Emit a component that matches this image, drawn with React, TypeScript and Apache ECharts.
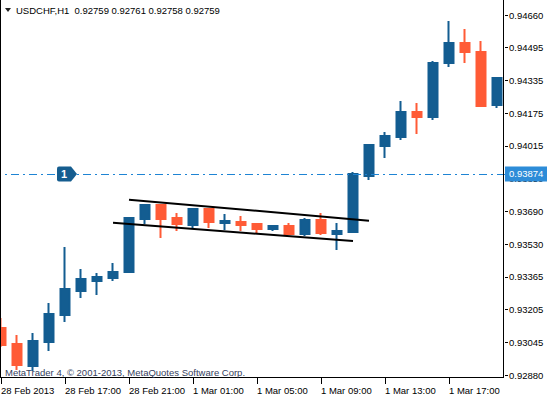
import React, { useEffect, useRef } from "react";
import * as echarts from "echarts";

const categories = [
  "2013.02.28 13:00", "2013.02.28 14:00", "2013.02.28 15:00", "2013.02.28 16:00",
  "2013.02.28 17:00", "2013.02.28 18:00", "2013.02.28 19:00", "2013.02.28 20:00",
  "2013.02.28 21:00", "2013.02.28 22:00", "2013.02.28 23:00", "2013.03.01 00:00",
  "2013.03.01 01:00", "2013.03.01 02:00", "2013.03.01 03:00", "2013.03.01 04:00",
  "2013.03.01 05:00", "2013.03.01 06:00", "2013.03.01 07:00", "2013.03.01 08:00",
  "2013.03.01 09:00", "2013.03.01 10:00", "2013.03.01 11:00", "2013.03.01 12:00",
  "2013.03.01 13:00", "2013.03.01 14:00", "2013.03.01 15:00", "2013.03.01 16:00",
  "2013.03.01 17:00", "2013.03.01 18:00", "2013.03.01 19:00", "2013.03.01 20:00",
];

const opens = [
  0.93112, 0.93033, 0.92924, 0.93043, 0.93177, 0.93295, 0.93345, 0.9336,
  0.93389, 0.93651, 0.9372, 0.93656, 0.93622, 0.93701, 0.93632, 0.93636,
  0.93627, 0.93602, 0.93617, 0.93577, 0.93646, 0.93577, 0.93587, 0.93864,
  0.94012, 0.94057, 0.9418, 0.94156, 0.94423, 0.94521, 0.94477, 0.94215,
];
const closes = [
  0.93028, 0.92929, 0.93048, 0.93182, 0.93305, 0.93355, 0.93365, 0.93389,
  0.93656, 0.9372, 0.93651, 0.93627, 0.93701, 0.93636, 0.93641, 0.93622,
  0.93602, 0.93617, 0.93577, 0.93646, 0.93582, 0.93592, 0.93874, 0.94017,
  0.94062, 0.9418, 0.94156, 0.94423, 0.94521, 0.94477, 0.9421, 0.94348,
];
const highs = [
  0.93162, 0.93078, 0.93088, 0.93236, 0.93513, 0.93404, 0.93384, 0.93434,
  0.93661, 0.93725, 0.93725, 0.93681, 0.93706, 0.93706, 0.93676, 0.93666,
  0.93632, 0.93617, 0.93632, 0.93656, 0.93681, 0.93632, 0.93884, 0.94022,
  0.94081, 0.94235, 0.94225, 0.94432, 0.9463, 0.94591, 0.94531, 0.94353,
];
const lows = [
  0.93018, 0.92905, 0.929, 0.92999, 0.93142, 0.93261, 0.93276, 0.93345,
  0.93384, 0.93627, 0.93557, 0.93592, 0.93607, 0.93607, 0.93597, 0.93592,
  0.93582, 0.93592, 0.93577, 0.93567, 0.93572, 0.93498, 0.93582, 0.93844,
  0.93953, 0.94042, 0.94072, 0.94141, 0.94403, 0.94423, 0.9421, 0.942,
];

const xTickLabels = [
  "28 Feb 2013", "28 Feb 17:00", "28 Feb 21:00", "1 Mar 01:00",
  "1 Mar 05:00", "1 Mar 09:00", "1 Mar 13:00", "1 Mar 17:00",
];
const yTickLabels = [
  "0.92880", "0.93045", "0.93205", "0.93365", "0.93530", "0.93690",
  "0.93850", "0.94015", "0.94175", "0.94335", "0.94495", "0.94660",
];

const levelLine = 0.93874;
const levelMarkerIndex = 4;

// trend channel endpoints: [category index, price]
const upperTrend = [[8, 0.93747], [23, 0.93643]];
const lowerTrend = [[7, 0.93633], [22, 0.93542]];

const titleText = "USDCHF,H1  0.92759 0.92761 0.92758 0.92759";
const copyrightText = "MetaTrader 4, \u00a9 2001-2013, MetaQuotes Software Corp.";

const FONT = "'Liberation Sans', Arial, sans-serif";
const FS = 9.5;
const BULL = "#135D91";
const BEAR = "#FF5B36";

export default function App() {
  const ref = useRef<HTMLDivElement>(null);

  useEffect(() => {
    if (!ref.current) return;
    const chart = echarts.init(ref.current, null, { renderer: "svg" });
    const yMin = Number(yTickLabels[0]);
    const yMax = Number(yTickLabels[yTickLabels.length - 1]);
    const yInterval = (yMax - yMin) / (yTickLabels.length - 1);

    const candleData = opens.map((o, i) => [o, closes[i], lows[i], highs[i]]);

    const option: any = {
      animation: false,
      backgroundColor: "#ffffff",
      grid: { left: -7, right: 42, top: 15, bottom: 22, outerBoundsMode: "none", containLabel: false },
      xAxis: {
        type: "category",
        data: categories,
        boundaryGap: true,
        offset: 3,
        axisLine: { show: false },
        axisTick: {
          show: true,
          alignWithLabel: true,
          interval: (i: number) => i % 4 === 0,
          length: 6,
          lineStyle: { color: "#000" },
        },
        axisLabel: {
          interval: (i: number) => i % 4 === 0,
          formatter: (_v: string, i: number) => xTickLabels[Math.round(i / 4)] || "",
          align: "left",
          margin: 7,
          color: "#000",
          fontFamily: FONT,
          fontSize: FS,
          hideOverlap: false,
        },
        splitLine: { show: false },
      },
      yAxis: {
        type: "value",
        position: "right",
        min: yMin,
        max: yMax,
        interval: yInterval,
        scale: true,
        axisLine: { show: false },
        axisTick: { show: true, length: 3, lineStyle: { color: "#000" } },
        axisLabel: {
          margin: 4,
          color: "#000",
          fontFamily: FONT,
          fontSize: FS,
          formatter: (v: number) => yTickLabels[Math.round((v - yMin) / yInterval)] || "",
        },
        splitLine: { show: false },
      },
      series: [
        {
          type: "candlestick",
          data: candleData,
          barWidth: 9,
          itemStyle: {
            color: BULL,
            color0: BEAR,
            borderColor: BULL,
            borderColor0: BEAR,
            borderWidth: 2,
          },
          markLine: {
            silent: true,
            precision: 5,
            symbol: ["none", "none"],
            data: [{ yAxis: levelLine }],
            lineStyle: { color: "#1E84D4", width: 1, type: [8, 4, 2, 4] },
            label: {
              show: true,
              position: "end",
              distance: 0,
              formatter: (p: any) => Number(p.value).toFixed(5),
              color: "#fff",
              backgroundColor: "#2D8CD8",
              padding: [3, 4, 2, 4],
              fontFamily: FONT,
              fontSize: FS,
              lineHeight: 10,
            },
            z: 6,
          },
          markPoint: {
            silent: true,
            data: [
              {
                coord: [categories[levelMarkerIndex], levelLine],
                symbol: "path://M2,0 L14,0 L20,7.5 L14,15 L2,15 Q0,15 0,13 L0,2 Q0,0 2,0 Z",
                symbolSize: [20, 15],
                symbolOffset: [2, 0],
                itemStyle: { color: "#155D8F" },
                label: {
                  show: true,
                  position: "inside",
                  formatter: "1",
                  offset: [-3, 0],
                  color: "#fff",
                  fontWeight: "bold",
                  fontFamily: FONT,
                  fontSize: 11,
                },
              },
            ],
            z: 7,
          },
        },
        {
          type: "line",
          data: upperTrend.map(([i, v]) => [categories[i], v]),
          symbol: "none",
          lineStyle: { color: "#000", width: 2 },
          z: 5,
          silent: true,
        },
        {
          type: "line",
          data: lowerTrend.map(([i, v]) => [categories[i], v]),
          symbol: "none",
          lineStyle: { color: "#000", width: 2 },
          z: 5,
          silent: true,
        },
      ],
      graphic: [
        { type: "line", shape: { x1: 0.5, y1: 0, x2: 0.5, y2: 378 }, style: { stroke: "#000", lineWidth: 1 }, z: 10 },
        { type: "line", shape: { x1: 503.5, y1: 0, x2: 503.5, y2: 378 }, style: { stroke: "#000", lineWidth: 1 }, z: 10 },
        { type: "line", shape: { x1: 0, y1: 377.5, x2: 504, y2: 377.5 }, style: { stroke: "#000", lineWidth: 1 }, z: 10 },
        { type: "polygon", shape: { points: [[5, 8], [11, 8], [8, 12]] }, style: { fill: "#222" }, z: 10 },
        {
          type: "text",
          x: 16,
          y: 10,
          style: { text: titleText, fill: "#000", font: `${FS}px ${FONT}`, textVerticalAlign: "middle" },
          z: 10,
        },
        {
          type: "text",
          x: 5,
          y: 372,
          style: { text: copyrightText, fill: "#354160", font: `${FS}px ${FONT}`, textVerticalAlign: "middle" },
          z: 10,
        },
      ],
    };
    chart.setOption(option);
    return () => chart.dispose();
  }, []);

  return (
    <div
      ref={ref}
      style={{ position: "fixed", left: 0, top: 0, width: 547, height: 397, background: "#fff" }}
    />
  );
}
